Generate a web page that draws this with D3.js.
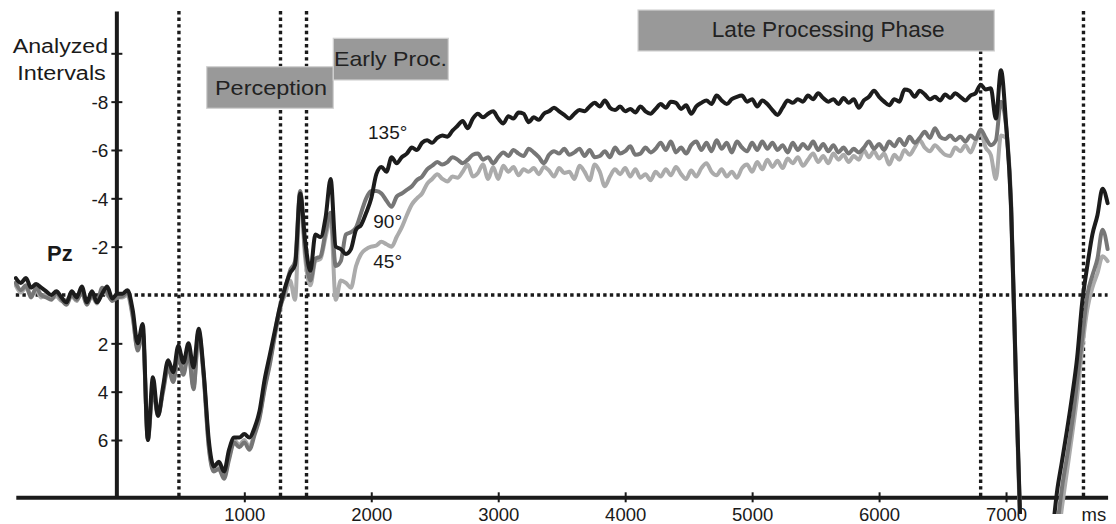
<!DOCTYPE html>
<html>
<head>
<meta charset="utf-8">
<script src="https://cdn.jsdelivr.net/npm/d3@7"></script>
<style>
  html, body { margin: 0; padding: 0; background: #fff; }
  svg { display: block; }
  text { font-family: "Liberation Sans", Arial, Helvetica, sans-serif; fill: #1a1a1a; }
</style>
</head>
<body>
<svg id="chart" width="1116" height="524"></svg>
<script>
// ---- data: grand-average ERP at Pz, one sample every 40 ms from -800 ms ----
const startMs = -800;
const stepMs = 40;

// 135° condition (µV, negative up)
const angle135 = [
  -0.7, -0.5, -0.7, -0.3, -0.45, -0.3, -0.15, 0.0, -0.15, 0.1, 0.3, -0.15, 0.1, -0.35, 0.3, -0.15, 0.3, -0.05, -0.35, 0.15, -0.05,
  -0.05, -0.2, 0.6, 2.0, 1.2, 6.0, 3.4, 5.0, 3.8, 2.7, 3.2, 2.1, 2.8, 2.0, 3.0, 1.4, 3.2, 6.0, 7.1, 6.9, 7.3, 6.4, 5.9, 5.9, 5.75,
  5.9, 5.5, 4.8, 3.5, 2.5, 1.5, 0.5, -0.3, -0.9, -1.25, -4.2, -2.2, -1.0, -2.5, -2.4, -3.2, -4.8, -2.0, -1.9, -1.7, -1.9, -2.7, -2.9, -3.4, -4.0,
  -5.0, -5.3, -5.1, -5.7, -5.45, -5.7, -5.85, -6.1, -6.0, -6.3, -6.4, -6.3, -6.5, -6.6, -6.55, -6.8, -7.0, -7.2, -6.9, -7.3, -7.5, -7.35, -7.5, -7.6, -7.3,
  -7.1, -7.4, -7.3, -7.55, -7.5, -7.15, -7.35, -7.25, -7.5, -7.6, -7.75, -7.6, -7.45, -7.3, -7.5, -7.65, -7.6, -7.8, -7.95, -7.8, -8.05, -7.75, -7.65, -7.8, -7.6,
  -7.7, -7.55, -7.8, -7.6, -7.5, -7.7, -7.9, -7.75, -8.0, -7.95, -7.7, -7.85, -7.5, -7.8, -7.95, -8.05, -7.9, -8.25, -8.05, -7.9, -8.1, -8.2, -8.25, -8.0, -8.1,
  -7.8, -8.05, -7.9, -7.65, -7.45, -7.75, -8.05, -7.95, -8.1, -8.0, -8.25, -8.1, -8.35, -8.15, -8.0, -8.1, -7.9, -8.15, -7.95, -8.1, -7.75, -8.05, -8.2, -8.45, -8.2,
  -8.0, -7.85, -8.1, -8.0, -8.5, -8.45, -8.2, -8.45, -8.3, -8.1, -8.2, -8.05, -8.3, -8.15, -8.35, -8.2, -8.05, -8.25, -8.35, -8.7, -8.5, -8.55, -7.3, -9.3, -7.1,
  -3.6, 3.9, 10.7, null, null, null, null, null, 10.2, 8.2, 6.9, 5.6, 4.2, 2.6, 0.3, -1.2, -2.5, -3.3, -4.4, -3.8
];

// 90° condition
const angle90 = [
  -0.5, -0.2, -0.4, 0.1, -0.3, 0.0, 0.1, 0.2, -0.1, 0.2, 0.4, 0.0, 0.2, -0.1, 0.4, 0.0, 0.3, -0.3, -0.1, 0.25, 0.1,
  0.05, -0.1, 0.8, 2.3, 1.5, 6.0, 3.9, 5.0, 4.0, 3.0, 3.6, 2.5, 3.3, 2.4, 3.9, 1.6, 3.4, 6.3, 7.3, 7.2, 7.6, 6.8, 6.1, 6.3, 6.1,
  6.4, 5.8, 5.1, 3.9, 2.9, 1.7, 0.6, -0.2, -1.0, -1.4, -4.3, -1.8, -0.6, -1.5, -1.6, -2.6, -3.4, -1.2, -1.4, -2.5, -2.6, -2.8, -3.4, -4.0, -4.3,
  -4.3, -4.2, -3.9, -3.65, -4.07, -4.2, -4.35, -4.5, -4.76, -4.9, -5.2, -5.35, -5.5, -5.4, -5.5, -5.7, -5.6, -5.45, -5.6, -5.8, -5.85, -5.6, -5.7, -5.45, -5.7,
  -5.9, -5.75, -6.0, -5.85, -5.75, -6.05, -5.9, -5.7, -5.45, -5.8, -5.95, -5.85, -6.05, -5.8, -5.9, -6.05, -5.75, -6.0, -5.7, -5.75, -5.95, -5.7, -6.1, -5.85, -5.95,
  -6.15, -5.8, -5.85, -6.1, -5.9, -6.05, -6.3, -6.0, -6.35, -5.9, -6.1, -5.85, -6.2, -6.35, -6.0, -6.3, -5.95, -6.4, -6.05, -6.3, -5.9, -6.35, -6.1, -5.95, -6.3,
  -6.0, -6.35, -6.05, -6.3, -6.0, -6.2, -5.9, -6.3, -6.0, -6.25, -6.05, -6.35, -6.0, -6.25, -5.95, -6.2, -5.9, -6.1, -5.85, -6.05, -5.9, -6.1, -6.35, -6.05, -6.25,
  -6.0, -6.35, -6.15, -6.45, -6.2, -6.55, -6.3, -6.5, -6.75, -6.5, -6.9, -6.55, -6.45, -6.6, -6.4, -6.55, -6.35, -6.6, -6.45, -6.85, -6.5, -6.2, -6.4, -8.0, -7.0,
  -3.8, 3.8, 11.0, null, null, null, null, null, 12.0, 9.8, 8.0, 6.7, 5.3, 3.6, 1.8, 0.0, -0.8, -1.5, -2.7, -1.9
];

// 45° condition
const angle45 = [
  -0.4, -0.1, -0.3, 0.0, -0.2, 0.1, -0.05, 0.15, 0.05, 0.25, 0.2, 0.05, 0.25, -0.2, 0.3, 0.05, 0.35, -0.15, 0.0, 0.2, 0.1,
  0.1, 0.0, 0.9, 2.2, 1.6, 5.8, 3.8, 4.9, 3.9, 2.9, 3.5, 2.4, 3.2, 2.3, 3.8, 1.5, 3.3, 6.2, 7.2, 7.1, 7.5, 6.7, 6.0, 6.2, 6.0,
  6.3, 5.7, 5.0, 3.8, 2.8, 1.6, 0.5, 0.0, -0.6, 0.2, -4.2, -1.5, -0.4, -1.4, -1.5, -2.4, -3.2, 0.2, -0.6, -0.5, -0.3, -1.2, -1.7, -1.9, -2.0,
  -2.05, -2.2, -2.1, -2.0, -2.4, -2.8, -3.3, -3.75, -4.0, -4.2, -4.6, -4.8, -5.0, -4.8, -4.7, -4.9, -4.85, -5.1, -5.4, -4.9, -5.05, -5.4, -4.8, -5.3, -4.8,
  -5.35, -5.1, -5.3, -4.95, -5.2, -5.1, -5.25, -5.0, -5.3, -5.15, -4.9, -5.25, -5.05, -5.1, -4.8, -5.35, -5.1, -4.75, -5.4, -5.1, -4.5, -4.9, -5.2, -5.0, -5.25,
  -4.9, -5.2, -4.85, -5.0, -4.75, -5.1, -4.9, -5.2, -4.95, -5.3, -5.0, -4.8, -5.15, -4.9, -5.25, -5.45, -5.1, -4.95, -5.2, -4.9, -5.1, -4.85, -5.25, -5.4, -5.1,
  -5.5, -5.2, -5.6, -5.3, -5.55, -5.25, -5.65, -5.45, -5.7, -5.35, -5.6, -5.85, -5.5, -5.75, -5.45, -5.85, -5.6, -5.8, -5.5, -5.75, -5.6, -6.0, -5.7, -5.95, -5.65,
  -5.85, -5.4, -5.8, -5.6, -6.0, -5.8, -6.1, -6.4, -6.1, -5.95, -6.2, -6.0, -5.8, -5.75, -6.1, -5.95, -6.2, -5.9, -6.35, -6.7, -6.1, -5.8, -4.8, -6.6, -6.5,
  -3.4, 4.2, 11.2, null, null, null, null, null, 12.0, 10.5, 8.8, 7.3, 5.8, 4.2, 2.2, 0.6, -0.3, -0.9, -1.6, -1.4
];

const seriesNames = ["45°", "90°", "135°"];
const seriesColors = ["#ababab", "#767676", "#1c1c1c"];

const xTicks = [1000, 2000, 3000, 4000, 5000, 6000, 7000];
const yTicks = [-10, -8, -6, -4, -2, 2, 4, 6];
const yTickLabels = ["", "-8", "-6", "-4", "-2", "2", "4", "6"];

// analysis interval boundaries (ms)
const intervalBounds = [485, 1285, 1490, 6800, 7610];
const phaseNames = ["Perception", "Early Proc.", "Late Processing Phase"];

// ---- layout ----
const svg = d3.select("#chart");

const x = d3.scaleLinear().domain([-800, 7800]).range([15.8, 1107.6]);
const y = d3.scaleLinear().domain([-11.75, 8.37]).range([11, 497.3]);

const ink = "#1a1a1a";

// clip for traces (they run slightly past the time axis)
svg.append("defs").append("clipPath").attr("id", "plotClip")
  .append("rect").attr("x", 14).attr("y", 0).attr("width", 1096).attr("height", 514);

// dotted zero line and interval boundaries
const dots = svg.append("g").attr("stroke", ink).attr("stroke-width", 3.4).attr("stroke-dasharray", "3.4,3.2");
dots.append("line")
  .attr("x1", x(-800)).attr("x2", x(7800))
  .attr("y1", y(0)).attr("y2", y(0));
dots.selectAll("line.bound").data(intervalBounds).join("line")
  .attr("class", "bound")
  .attr("x1", d => x(d)).attr("x2", d => x(d))
  .attr("y1", y(-11.75)).attr("y2", y(8.37));

// phase boxes
const boxes = [
  { name: phaseNames[0], bx: 206.7, by: 66.7, bw: 126.6, bh: 41.6, tx: 215, ty: 95, tl: 112, fs: 21 },
  { name: phaseNames[1], bx: 333.3, by: 38.3, bw: 115, bh: 41.7, tx: 334, ty: 66, tl: 113, fs: 21 },
  { name: phaseNames[2], bx: 638, by: 10, bw: 356.3, bh: 41, tx: 711.7, ty: 36.5, tl: 233, fs: 21.5 }
];
const bg = svg.append("g");
boxes.forEach(b => {
  bg.append("rect").attr("x", b.bx).attr("y", b.by).attr("width", b.bw).attr("height", b.bh)
    .attr("fill", "#999999").attr("stroke", "#d2d2d2").attr("stroke-width", 1.2);
});
boxes.forEach(b => {
  bg.append("text").attr("x", b.tx).attr("y", b.ty)
    .attr("font-size", b.fs).attr("textLength", b.tl).attr("lengthAdjust", "spacingAndGlyphs")
    .style("fill", "#222")
    .text(b.name);
});

// x axis
const xAxis = svg.append("g").attr("transform", `translate(0,${y(8.37)})`)
  .call(d3.axisBottom(x).tickValues(xTicks).tickFormat(d3.format("d")).tickSizeOuter(0));
xAxis.select(".domain").attr("stroke", ink).attr("stroke-width", 4);
xAxis.selectAll(".tick line").attr("stroke", ink).attr("stroke-width", 2).attr("y1", -5).attr("y2", 5);
xAxis.selectAll(".tick text").attr("y", 23.5).attr("dy", null)
  .attr("font-size", 18.5).attr("font-family", null).style("fill", ink);

// y axis
const yAxis = svg.append("g").attr("transform", `translate(${x(0) - 1},0)`)
  .call(d3.axisLeft(y).tickValues(yTicks).tickFormat((d, i) => yTickLabels[i]).tickSizeOuter(0));
yAxis.select(".domain").attr("stroke", ink).attr("stroke-width", 4);
yAxis.selectAll(".tick line").attr("stroke", ink).attr("stroke-width", 2).attr("x1", -5).attr("x2", 6);
yAxis.selectAll(".tick text").attr("x", -8).attr("dy", "0.36em")
  .attr("font-size", 19).attr("font-family", null).style("fill", ink);

// axis titles
svg.append("text").attr("x", 12.7).attr("y", 53.3).attr("font-size", 20)
  .attr("textLength", 95.5).attr("lengthAdjust", "spacingAndGlyphs").text("Analyzed");
svg.append("text").attr("x", 17.3).attr("y", 79.5).attr("font-size", 20)
  .attr("textLength", 88.5).attr("lengthAdjust", "spacingAndGlyphs").text("Intervals");
svg.append("text").attr("x", 47).attr("y", 261).attr("font-size", 22).attr("font-weight", "bold").text("Pz");
svg.append("text").attr("x", 1081.5).attr("y", 520.5).attr("font-size", 18.5).text("ms");

// traces
const seriesValues = [angle45, angle90, angle135];
const line = d3.line()
  .defined(d => d.v !== null)
  .x(d => x(d.t))
  .y(d => y(d.v))
  .curve(d3.curveMonotoneX);

const traces = svg.append("g").attr("clip-path", "url(#plotClip)");
seriesValues.forEach((vals, k) => {
  const pts = vals.map((v, i) => ({ t: startMs + i * stepMs, v }));
  traces.append("path")
    .datum(pts)
    .attr("fill", "none")
    .attr("stroke", seriesColors[k])
    .attr("stroke-width", 4)
    .attr("stroke-linejoin", "round")
    .attr("stroke-linecap", "round")
    .attr("d", line);
});

// condition labels
const condLabels = [
  { name: seriesNames[2], lx: 368, ly: 139.3 },
  { name: seriesNames[1], lx: 373.3, ly: 227.7 },
  { name: seriesNames[0], lx: 373.3, ly: 268.3 }
];
svg.append("g").selectAll("text").data(condLabels).join("text")
  .attr("x", d => d.lx).attr("y", d => d.ly).attr("font-size", 19)
  .text(d => d.name);
</script>
</body>
</html>
